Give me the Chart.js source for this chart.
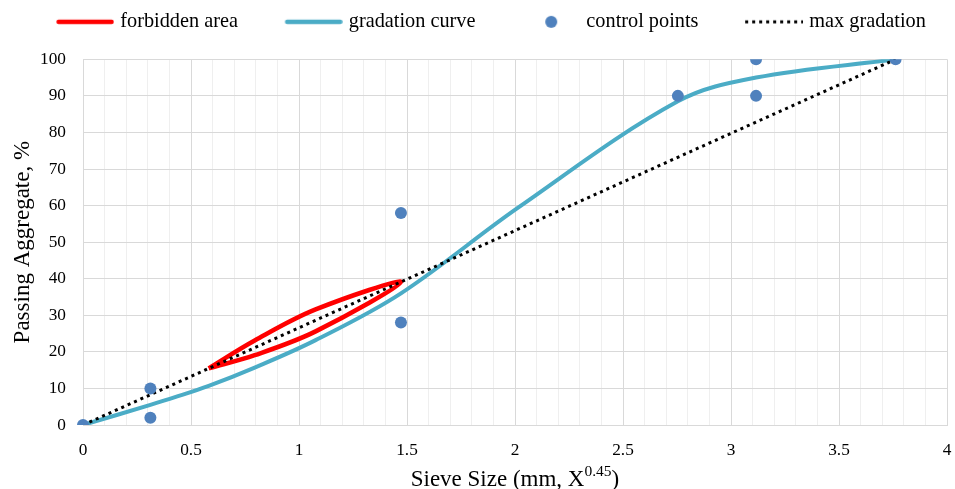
<!DOCTYPE html>
<html>
<head>
<meta charset="utf-8">
<script src="https://cdn.jsdelivr.net/npm/chart.js@4.4.1/dist/chart.umd.min.js"></script>
<style>
  html, body { margin: 0; padding: 0; background: #ffffff; }
  #wrap { width: 955px; height: 489px; }
</style>
</head>
<body>
<div id="wrap"><canvas id="c" width="955" height="489"></canvas></div>
<script>
// ---- data ----
const gradationX = [0, 0.312, 0.426, 0.582, 0.795, 1.077, 1.472, 2.016, 2.754, 3.116, 3.762];
const gradationY = [0, 5.5, 7.6, 10.7, 15.7, 23.2, 36, 59.5, 88.5, 95, 100];

const forbiddenX = [0.582, 0.795, 1.077, 1.472, 1.077, 0.795, 0.582];
const forbiddenY = [15.5, 23.1, 31.6, 39.1, 25.6, 19.1, 15.5];

const controlX = [0, 0.312, 0.312, 1.472, 1.472, 2.754, 3.116, 3.116, 3.762];
const controlY = [0, 10, 2, 58, 28, 90, 100, 90, 100];

const maxGradationX = [0, 3.762];
const maxGradationY = [0, 100];

const seriesNames = ['forbidden area', 'gradation curve', 'control points', 'max gradation'];
const xTickLabels = ['0', '0.5', '1', '1.5', '2', '2.5', '3', '3.5', '4'];
const yTickLabels = ['0', '10', '20', '30', '40', '50', '60', '70', '80', '90', '100'];
const xTitleMain = 'Sieve Size (mm, X';
const xTitleSup = '0.45';
const xTitleEnd = ')';
const yTitle = 'Passing Aggregate, %';

// ---- helpers ----
const toPoints = (xs, ys) => xs.map((x, i) => ({ x: x, y: ys[i] }));

const RED = '#ff0000';
const TEAL = '#4bacc6';
const BLUE = '#4f81bd';
const DOTS = '#000000';
const FAMILY = "'Liberation Serif', 'Times New Roman', serif";

// legend marker images
const LEG_BOX = 89, LEG_W = 97, LEG_H = 14, LEG_LEN = 58;
function makeMarker(kind, color) {
  const cv = document.createElement('canvas');
  cv.width = LEG_W; cv.height = LEG_H;
  const g = cv.getContext('2d');
  const x1 = LEG_W - LEG_LEN, x2 = LEG_W, cy = LEG_H / 2;
  if (kind === 'line') {
    g.strokeStyle = color; g.lineWidth = 4.5; g.lineCap = 'round';
    g.beginPath(); g.moveTo(x1 + 2.5, cy); g.lineTo(x2 - 2.5, cy); g.stroke();
  } else if (kind === 'dot') {
    g.fillStyle = color;
    g.beginPath(); g.arc((x1 + x2) / 2, cy, 6, 0, Math.PI * 2); g.fill();
  } else {
    g.strokeStyle = color; g.lineWidth = 3; g.setLineDash([3, 4]);
    g.beginPath(); g.moveTo(x1, cy); g.lineTo(x2, cy); g.stroke();
  }
  return cv;
}
const markers = [
  makeMarker('line', RED),
  makeMarker('line', TEAL),
  makeMarker('dot', BLUE),
  makeMarker('dots', DOTS)
];

// x-axis title with a real superscript
const xTitlePlugin = {
  id: 'xTitleSup',
  afterDraw(chart) {
    const ctx = chart.ctx, area = chart.chartArea;
    const big = '23px ' + FAMILY, small = '15.5px ' + FAMILY;
    ctx.save();
    ctx.fillStyle = '#000000';
    ctx.textBaseline = 'alphabetic';
    ctx.textAlign = 'left';
    ctx.font = big;
    const w1 = ctx.measureText(xTitleMain).width;
    const w3 = ctx.measureText(xTitleEnd).width;
    ctx.font = small;
    const w2 = ctx.measureText(xTitleSup).width;
    let x = (area.left + area.right) / 2 - (w1 + w2 + w3) / 2;
    const base = 486;
    ctx.font = big; ctx.fillText(xTitleMain, x, base); x += w1;
    ctx.font = small; ctx.fillText(xTitleSup, x, base - 10); x += w2;
    ctx.font = big; ctx.fillText(xTitleEnd, x, base);
    ctx.restore();
  }
};

Chart.defaults.font.family = FAMILY;
Chart.defaults.color = '#000000';

const isMajorX = (v) => Math.round(v * 10) % 5 === 0;

new Chart(document.getElementById('c'), {
  type: 'scatter',
  plugins: [xTitlePlugin],
  data: {
    datasets: [
      {
        label: seriesNames[0],
        data: toPoints(forbiddenX, forbiddenY),
        showLine: true,
        borderColor: RED,
        backgroundColor: RED,
        borderWidth: 4.5,
        tension: 0.35,
        pointRadius: 0,
        pointHoverRadius: 0,
        borderJoinStyle: 'round',
        order: 2
      },
      {
        label: seriesNames[1],
        data: toPoints(gradationX, gradationY),
        showLine: true,
        borderColor: TEAL,
        backgroundColor: TEAL,
        borderWidth: 4,
        tension: 0.35,
        pointRadius: 0,
        pointHoverRadius: 0,
        order: 3
      },
      {
        label: seriesNames[2],
        data: toPoints(controlX, controlY),
        showLine: false,
        backgroundColor: BLUE,
        borderColor: BLUE,
        borderWidth: 0,
        pointRadius: 6,
        pointHoverRadius: 6,
        order: 0
      },
      {
        label: seriesNames[3],
        data: toPoints(maxGradationX, maxGradationY),
        showLine: true,
        borderColor: DOTS,
        backgroundColor: DOTS,
        borderWidth: 3,
        borderDash: [3, 4],
        tension: 0,
        pointRadius: 0,
        pointHoverRadius: 0,
        order: 1
      }
    ]
  },
  options: {
    responsive: false,
    animation: false,
    events: [],
    devicePixelRatio: 1,
    layout: { padding: { left: 0, right: 8, top: 0, bottom: 0 } },
    plugins: {
      tooltip: { enabled: false },
      legend: {
        display: true,
        position: 'top',
        align: 'center',
        labels: {
          usePointStyle: true,
          pointStyleWidth: LEG_BOX,
          padding: 11.7,
          color: '#000000',
          font: { size: 20.3 },
          generateLabels: () => seriesNames.map((name, i) => ({
            text: name,
            pointStyle: markers[i],
            fillStyle: 'rgba(0,0,0,0)',
            strokeStyle: 'rgba(0,0,0,0)',
            lineWidth: 0,
            hidden: false,
            datasetIndex: i
          }))
        }
      }
    },
    scales: {
      xTop: {
        type: 'linear',
        axis: 'x',
        position: 'top',
        display: true,
        grid: { display: false, drawTicks: false },
        border: { display: false },
        ticks: { display: false },
        afterFit: (s) => { s.height = 17.3; }
      },
      x: {
        type: 'linear',
        position: 'bottom',
        min: 0,
        max: 4,
        afterFit: (s) => { s.height = 64; s.paddingLeft = 4.5; s.paddingRight = 4.5; },
        ticks: {
          stepSize: 0.1,
          autoSkip: false,
          maxRotation: 0,
          padding: 15,
          font: { size: 17.3 },
          color: '#000000',
          callback: (v) => {
            const i = Math.round(v * 10);
            return i % 5 === 0 ? xTickLabels[i / 5] : '';
          }
        },
        grid: {
          drawTicks: false,
          lineWidth: 1,
          color: (ctx) => (ctx.tick && isMajorX(ctx.tick.value)) ? '#d9d9d9' : '#efefef'
        },
        border: { display: true, color: '#d9d9d9', width: 1 },
        title: { display: false }
      },
      y: {
        type: 'linear',
        position: 'left',
        min: 0,
        max: 100,
        afterFit: (s) => { s.width = 83; },
        ticks: {
          stepSize: 10,
          padding: 17,
          font: { size: 17.3 },
          color: '#000000',
          callback: (v) => yTickLabels[Math.round(v / 10)]
        },
        grid: { drawTicks: false, color: '#d9d9d9', lineWidth: 1 },
        border: { display: true, color: '#d9d9d9', width: 1 },
        title: {
          display: true,
          text: yTitle,
          font: { size: 23 },
          color: '#000000',
          padding: { top: 9, bottom: 0 }
        }
      }
    }
  }
});
</script>
</body>
</html>
